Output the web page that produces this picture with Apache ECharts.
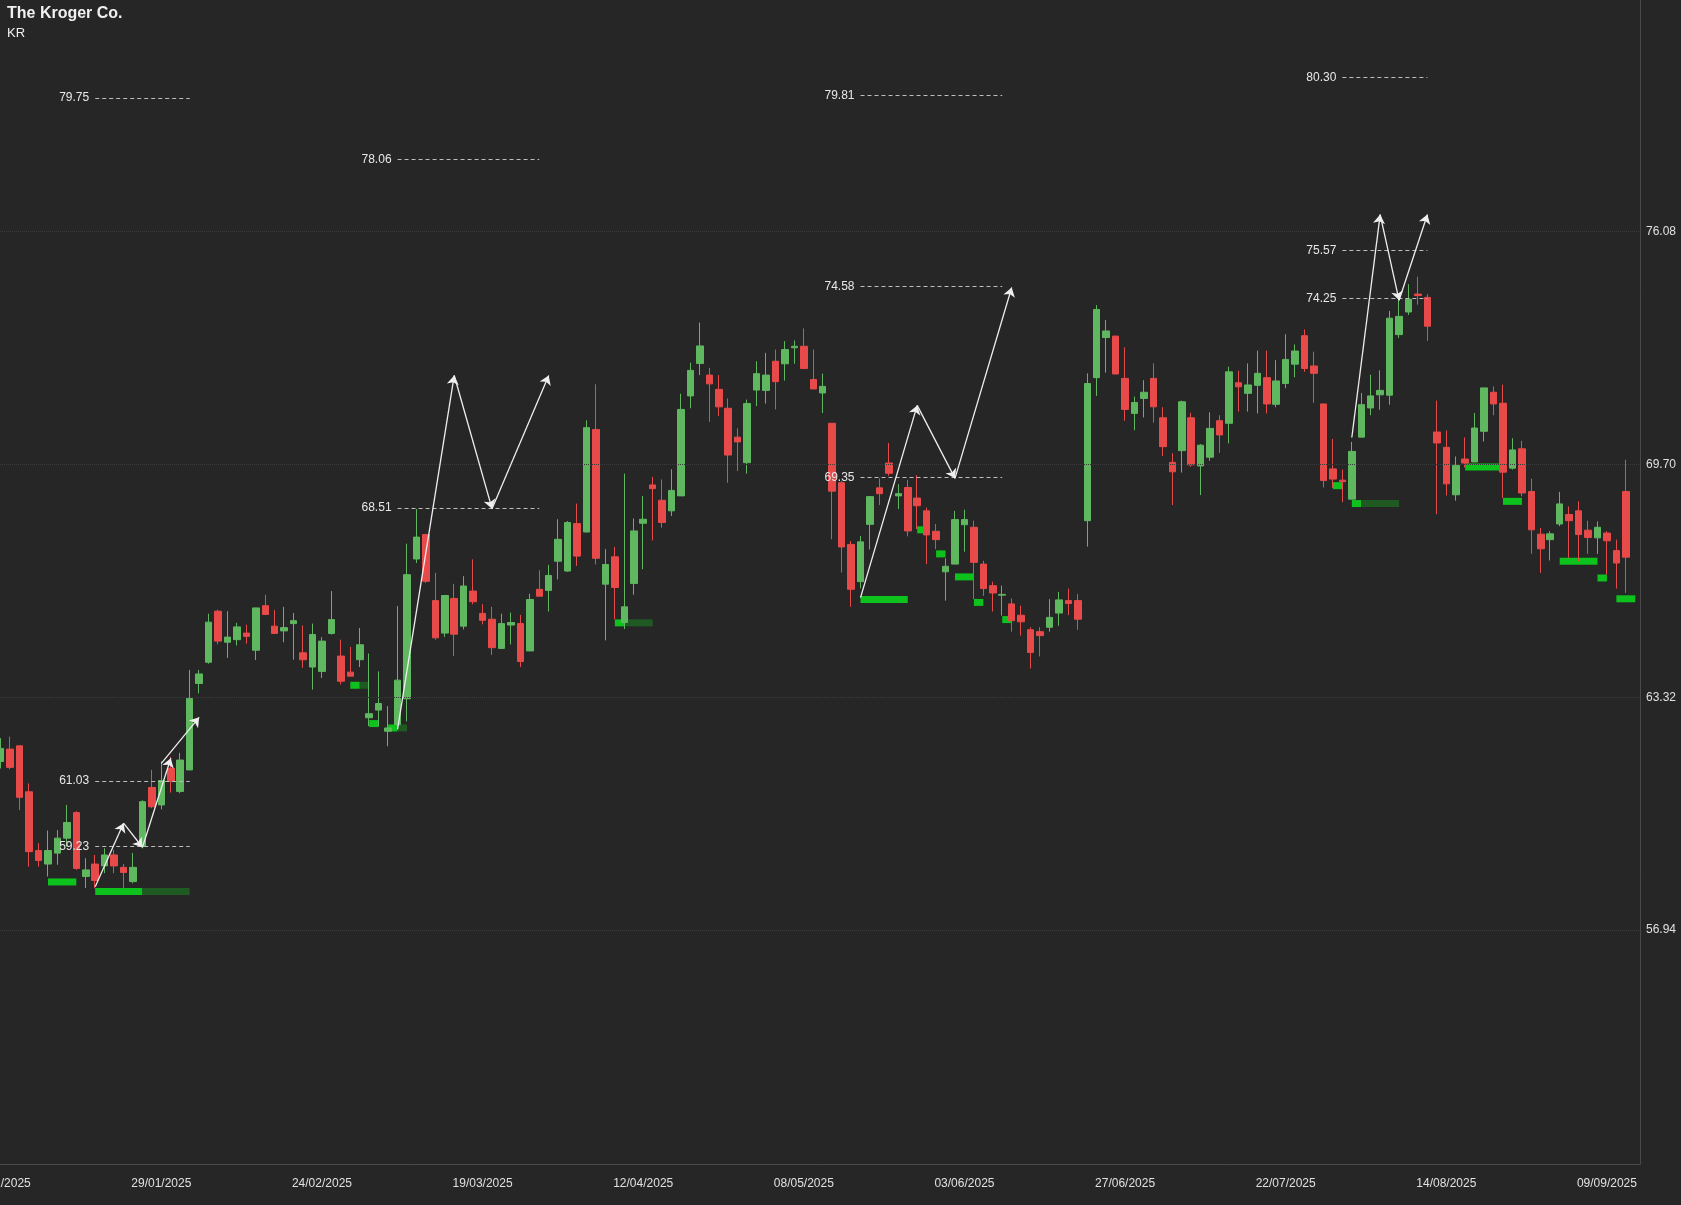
<!DOCTYPE html>
<html>
<head>
<meta charset="utf-8">
<script src="https://cdn.jsdelivr.net/npm/echarts@6/dist/echarts.min.js"></script>
<style>
	html,body{margin:0;padding:0;background:#262626;}
	#main{width:1681px;height:1205px;}
</style>
</head>
<body>
<div id="main"></div>
<script>
var dates = ['02/01/2025','03/01/2025','06/01/2025','07/01/2025','08/01/2025','10/01/2025','13/01/2025','14/01/2025','15/01/2025','16/01/2025','17/01/2025','21/01/2025','22/01/2025','23/01/2025','24/01/2025','27/01/2025','28/01/2025',
	'29/01/2025','30/01/2025','31/01/2025','03/02/2025','04/02/2025','05/02/2025','06/02/2025','07/02/2025','10/02/2025','11/02/2025','12/02/2025','13/02/2025','14/02/2025','18/02/2025','19/02/2025','20/02/2025','21/02/2025',
	'24/02/2025','25/02/2025','26/02/2025','27/02/2025','28/02/2025','03/03/2025','04/03/2025','05/03/2025','06/03/2025','07/03/2025','10/03/2025','11/03/2025','12/03/2025','13/03/2025','14/03/2025','17/03/2025','18/03/2025',
	'19/03/2025','20/03/2025','21/03/2025','24/03/2025','25/03/2025','26/03/2025','27/03/2025','28/03/2025','31/03/2025','01/04/2025','02/04/2025','03/04/2025','04/04/2025','07/04/2025','08/04/2025','09/04/2025','10/04/2025',
	'12/04/2025','14/04/2025','15/04/2025','16/04/2025','17/04/2025','21/04/2025','22/04/2025','23/04/2025','24/04/2025','25/04/2025','28/04/2025','29/04/2025','30/04/2025','01/05/2025','02/05/2025','05/05/2025','06/05/2025',
	'08/05/2025','09/05/2025','12/05/2025','13/05/2025','14/05/2025','15/05/2025','16/05/2025','19/05/2025','20/05/2025','21/05/2025','22/05/2025','23/05/2025','27/05/2025','28/05/2025','29/05/2025','30/05/2025','02/06/2025',
	'03/06/2025','04/06/2025','05/06/2025','06/06/2025','09/06/2025','10/06/2025','11/06/2025','12/06/2025','13/06/2025','16/06/2025','17/06/2025','18/06/2025','20/06/2025','23/06/2025','24/06/2025','25/06/2025','26/06/2025',
	'27/06/2025','30/06/2025','01/07/2025','02/07/2025','03/07/2025','04/07/2025','07/07/2025','08/07/2025','09/07/2025','10/07/2025','11/07/2025','14/07/2025','15/07/2025','16/07/2025','17/07/2025','18/07/2025','21/07/2025',
	'22/07/2025','23/07/2025','24/07/2025','25/07/2025','28/07/2025','29/07/2025','30/07/2025','31/07/2025','01/08/2025','04/08/2025','05/08/2025','06/08/2025','07/08/2025','08/08/2025','11/08/2025','12/08/2025','13/08/2025',
	'14/08/2025','15/08/2025','18/08/2025','19/08/2025','20/08/2025','21/08/2025','22/08/2025','25/08/2025','26/08/2025','27/08/2025','28/08/2025','29/08/2025','02/09/2025','03/09/2025','04/09/2025','05/09/2025','08/09/2025',
	'09/09/2025','10/09/2025','11/09/2025'];

var opens = [61.56,61.90,61.99,60.73,59.12,58.75,59.05,59.46,60.16,58.41,58.75,58.70,59.00,58.66,58.27,59.23,60.85,60.37,61.37,60.74,
	61.33,63.70,64.28,65.68,64.83,64.90,65.08,64.61,65.83,65.27,65.14,65.34,64.54,64.15,64.03,65.07,64.45,64.01,64.35,62.76,
	62.97,62.39,62.57,63.28,67.11,67.78,65.97,65.08,66.03,65.27,66.23,65.62,65.46,64.66,65.30,65.34,64.59,66.28,66.25,67.05,
	66.78,68.08,67.85,70.66,66.42,67.17,65.37,66.44,68.09,69.14,68.72,68.43,68.84,71.58,72.47,72.15,71.76,71.24,70.45,69.75,
	71.74,71.73,72.53,72.46,72.90,72.94,72.03,71.66,70.83,69.20,67.51,66.49,68.06,69.06,69.74,68.84,69.07,68.78,68.43,67.87,
	66.76,66.97,68.05,67.98,66.97,66.38,66.12,65.88,65.57,65.17,65.12,65.24,65.63,65.97,65.97,68.16,72.08,73.18,73.22,72.06,
	71.10,71.51,72.06,70.98,69.76,70.08,70.98,69.66,69.90,70.90,70.83,71.94,71.65,71.87,72.08,71.35,71.92,72.45,73.23,72.40,
	71.36,69.58,69.27,68.75,70.45,71.25,71.61,71.60,73.26,73.88,74.37,74.28,70.59,70.17,68.87,69.85,69.77,70.61,71.68,71.38,
	69.60,70.13,68.96,67.79,67.64,68.07,68.33,68.43,67.90,67.69,67.82,67.34,68.96];
var closes = [61.92,61.40,60.58,59.09,58.85,59.12,59.46,59.89,58.63,58.59,58.30,59.00,58.70,58.52,58.66,60.46,60.32,61.04,61.01,61.60,
	63.29,63.96,65.38,64.86,64.97,65.25,64.99,65.77,65.59,65.07,65.23,65.42,64.35,65.04,64.86,65.45,63.76,63.90,64.76,62.87,
	63.15,62.48,63.79,66.68,67.71,66.50,64.95,66.11,65.05,66.37,65.94,65.43,64.68,65.34,65.37,64.30,66.00,66.09,66.66,67.65,
	68.11,67.19,70.71,67.13,66.96,66.33,65.80,67.88,68.20,69.04,68.11,68.99,71.21,72.28,72.95,71.91,71.28,69.96,70.32,71.37,
	72.19,72.15,71.97,72.85,72.94,72.33,71.77,71.84,68.97,67.44,66.28,67.58,68.82,68.90,69.46,68.90,67.88,68.57,67.77,67.64,
	66.91,68.19,68.19,67.02,66.30,66.18,66.14,65.42,65.39,64.55,65.01,65.51,65.99,65.89,65.46,71.92,73.95,73.36,72.18,71.21,
	71.40,71.68,71.28,70.19,69.50,71.42,69.69,70.23,70.69,70.51,72.24,71.83,71.88,72.20,71.36,71.99,72.58,72.81,72.33,72.20,
	69.26,69.30,69.23,70.06,71.34,71.58,71.73,73.71,73.76,74.23,74.33,73.49,70.29,69.17,69.68,69.74,70.70,71.80,71.36,69.49,
	70.10,68.92,67.91,67.39,67.80,68.62,68.16,67.78,67.70,67.98,67.61,67.00,67.16];
var lows = [61.37,61.35,60.23,58.68,58.68,58.41,58.73,59.23,58.59,58.09,58.09,58.50,58.50,58.09,58.22,59.18,60.28,60.25,60.71,60.69,
	61.33,63.43,64.24,64.77,64.40,64.74,64.79,64.34,65.59,65.07,64.83,64.35,64.13,63.53,63.85,65.04,63.67,63.90,64.15,62.53,
	62.53,61.98,62.53,62.66,67.00,66.45,64.90,64.97,64.45,65.18,65.87,65.32,64.48,64.64,64.77,64.15,64.59,66.09,65.67,66.55,
	66.76,66.92,67.85,66.96,64.88,65.46,65.19,66.13,66.83,67.62,67.97,68.29,68.84,71.24,72.15,70.87,71.03,69.20,69.52,69.45,
	71.30,71.37,71.21,72.00,72.46,72.33,71.77,71.11,67.65,66.74,65.80,66.31,67.37,68.59,69.39,68.48,67.73,67.93,66.97,67.38,
	65.97,66.97,67.31,66.01,66.10,65.67,65.56,65.12,65.01,64.11,64.44,65.12,65.28,65.57,65.17,67.45,71.58,72.22,72.18,70.90,
	70.64,70.99,70.85,69.93,68.59,69.48,69.64,68.86,69.80,70.02,70.28,71.15,71.15,71.10,71.10,71.27,71.79,72.09,72.24,71.39,
	69.07,69.06,68.67,68.75,70.45,71.05,71.20,71.34,73.17,73.80,74.08,73.09,68.34,68.85,68.71,69.62,69.77,70.33,71.05,68.78,
	69.56,68.83,67.25,66.73,67.07,68.01,67.14,67.05,67.25,67.25,66.68,66.30,66.18];
var highs = [62.20,62.24,62.00,60.96,59.32,59.67,59.68,60.37,60.20,58.91,59.00,59.18,59.14,58.75,59.05,60.50,61.33,61.56,61.69,61.80,
	64.07,64.07,65.61,65.72,65.68,65.36,65.31,65.77,66.13,65.71,65.80,65.63,65.29,65.34,64.97,66.23,64.90,64.70,65.22,64.52,
	64.03,63.08,65.82,67.53,68.48,67.80,66.73,66.11,66.43,66.64,67.10,65.87,65.80,65.61,65.64,65.58,66.16,66.80,66.95,68.20,
	68.15,68.63,70.91,71.90,67.38,67.44,69.45,68.22,68.84,69.36,69.29,69.57,71.64,72.49,73.59,72.35,72.15,71.51,70.69,71.48,
	72.53,72.76,72.85,73.08,73.10,73.43,72.85,72.19,70.83,69.25,67.60,67.74,68.82,69.32,70.29,69.16,69.28,69.41,68.52,68.07,
	67.13,68.43,68.46,68.16,67.06,66.49,66.38,66.03,65.83,65.24,65.24,66.01,66.21,66.30,66.15,72.20,74.07,73.66,73.22,72.91,
	71.56,72.01,72.47,71.27,70.01,71.45,71.12,70.26,71.13,71.05,72.38,72.27,72.47,72.82,72.82,72.56,73.27,72.99,73.40,72.79,
	71.36,70.40,69.56,70.32,71.66,72.16,72.28,73.91,74.28,74.64,74.85,74.37,71.45,70.63,69.92,70.44,71.11,71.80,71.84,71.89,
	70.42,70.35,69.31,67.96,67.87,68.95,68.55,68.69,68.16,68.14,67.87,67.64,69.83];

var yTicks = [56.94, 63.32, 69.70, 76.08];

// dashed price levels: [value, from index, to index]
var levels = [
	[79.75, 9.5, 20], [61.03, 9.5, 20], [59.23, 9.5, 20],
	[78.06, 41.6, 57.3], [68.51, 41.6, 57.3],
	[79.81, 90.6, 106.2], [74.58, 90.6, 106.2], [69.35, 90.6, 106.2],
	[80.30, 142.4, 150.5], [75.57, 142.4, 150.5], [74.25, 142.4, 150.5]
];

// projection arrows: [x0, y0, x1, y1]
var arrows = [
	[9.9, 58.13, 13.0, 59.87], [13.0, 59.87, 15.0, 59.21], [15.0, 59.21, 18.1, 61.65], [17.4, 61.51, 21.1, 62.77],
	[41.8, 62.44, 48.1, 72.14], [48.1, 72.14, 51.8, 68.49], [51.8, 68.49, 58.0, 72.14],
	[90.9, 66.05, 97.1, 71.32], [97.1, 71.32, 100.9, 69.32], [100.9, 69.32, 107.0, 74.55],
	[143.0, 70.44, 145.9, 76.55], [145.9, 76.55, 148.0, 74.20], [148.0, 74.20, 151.0, 76.55]
];

// support zones: [from index, to index, price, dark]
var zones = [
	[4.5, 7.6, 58.26, 0], [9.5, 14.6, 58.0, 0], [14.6, 19.5, 58.0, 1],
	[36.6, 37.7, 63.65, 0], [37.7, 38.6, 63.65, 1], [39.1, 40.2, 62.6, 0],
	[41.2, 42.2, 62.48, 0], [42.2, 43.1, 62.48, 1],
	[64.7, 65.8, 65.36, 0], [65.8, 68.7, 65.36, 1],
	[90.6, 95.9, 66.0, 0], [96.8, 97.9, 67.91, 0], [98.8, 99.8, 67.25, 0],
	[100.8, 102.8, 66.62, 0], [102.8, 103.8, 65.92, 0], [105.8, 106.9, 65.45, 0],
	[140.8, 141.9, 69.12, 0], [142.8, 143.9, 68.63, 0], [143.9, 147.9, 68.63, 1],
	[154.9, 158.9, 69.63, 0], [158.9, 161.0, 68.69, 0], [164.9, 169.0, 67.05, 0],
	[168.9, 170.0, 66.59, 0], [170.9, 173.0, 66.02, 0]
];

var candles = [];
for (var i = 0; i < dates.length; i++) {
	candles.push([opens[i], closes[i], lows[i], highs[i]]);
}

var gridLines = yTicks.map(function (v) { return {yAxis: v}; });
var levelLines = levels.map(function (l) {
	return [{coord: [l[1], l[0]], value: l[0]}, {coord: [l[2], l[0]]}];
});

var myChart = echarts.init(document.getElementById('main'));
var option = {
	backgroundColor: '#262626',
	animation: false,
	title: {
		text: 'The Kroger Co.',
		subtext: 'KR',
		left: 7, top: 6,
		padding: 0,
		itemGap: 5,
		textStyle: {color: '#f0f0f0', fontSize: 16, fontWeight: 'bold', fontFamily: 'Liberation Sans'},
		subtextStyle: {color: '#f0f0f0', fontSize: 13, fontFamily: 'Liberation Sans'}
	},
	grid: {left: -4, right: 41, top: 0, bottom: 41, outerBoundsMode: 'none', containLabel: false},
	xAxis: {
		type: 'category',
		data: dates,
		max: 173,
		boundaryGap: true,
		axisLine: {lineStyle: {color: '#4a4a4a'}},
		axisTick: {show: false},
		axisLabel: {interval: 16, color: '#e0e0e0', fontSize: 12, margin: 14, fontFamily: 'Liberation Sans'},
		splitLine: {show: false}
	},
	yAxis: {
		type: 'value',
		position: 'right',
		min: 50.53,
		max: 82.43,
		axisLine: {show: true, lineStyle: {color: '#4a4a4a'}},
		axisTick: {show: false},
		splitLine: {show: false},
		axisLabel: {
			customValues: yTicks,
			color: '#e0e0e0', fontSize: 12, margin: 6, fontFamily: 'Liberation Sans',
			formatter: function (v) { return v.toFixed(2); }
		}
	},
	series: [{
		type: 'candlestick',
		data: candles,
		barWidth: '74%',
		itemStyle: {
			color: '#5fb760', color0: '#e84a4a',
			borderColor: '#5fb760', borderColor0: '#e84a4a',
			borderWidth: 1
		},
		markLine: {
			silent: true,
			symbol: 'none',
			label: {show: false},
			lineStyle: {color: '#3c3c3c', type: 'dotted', width: 1},
			data: gridLines
		}
	}, {
		type: 'line',
		data: [],
		markLine: {
			silent: true,
			symbol: 'none',
			label: {
				show: true, position: 'start', distance: 6,
				color: '#e8e8e8', fontSize: 12, fontFamily: 'Liberation Sans',
				formatter: function (p) { return p.value.toFixed(2); }
			},
			lineStyle: {color: '#bdbdbd', type: [4, 3], width: 1},
			data: levelLines
		}
	}, {
		type: 'custom',
		renderItem: function (params, api) {
			var p0 = api.coord([api.value(0), api.value(2)]);
			var p1 = api.coord([api.value(1), api.value(2)]);
			return {
				type: 'rect',
				shape: {x: p0[0], y: p0[1] - 3.5, width: p1[0] - p0[0], height: 7},
				style: {fill: api.value(3) ? '#1e5a22' : '#0dc21c'}
			};
		},
		encode: {x: [0, 1], y: 2},
		data: zones,
		z: 1
	}, {
		type: 'lines',
		coordinateSystem: 'cartesian2d',
		symbol: ['none', 'arrow'],
		symbolSize: 9,
		lineStyle: {color: '#eeeeee', width: 1.3, opacity: 1},
		data: arrows.map(function (a) { return {coords: [[a[0], a[1]], [a[2], a[3]]]}; }),
		z: 5
	}]
};
myChart.setOption(option);
</script>
</body>
</html>
